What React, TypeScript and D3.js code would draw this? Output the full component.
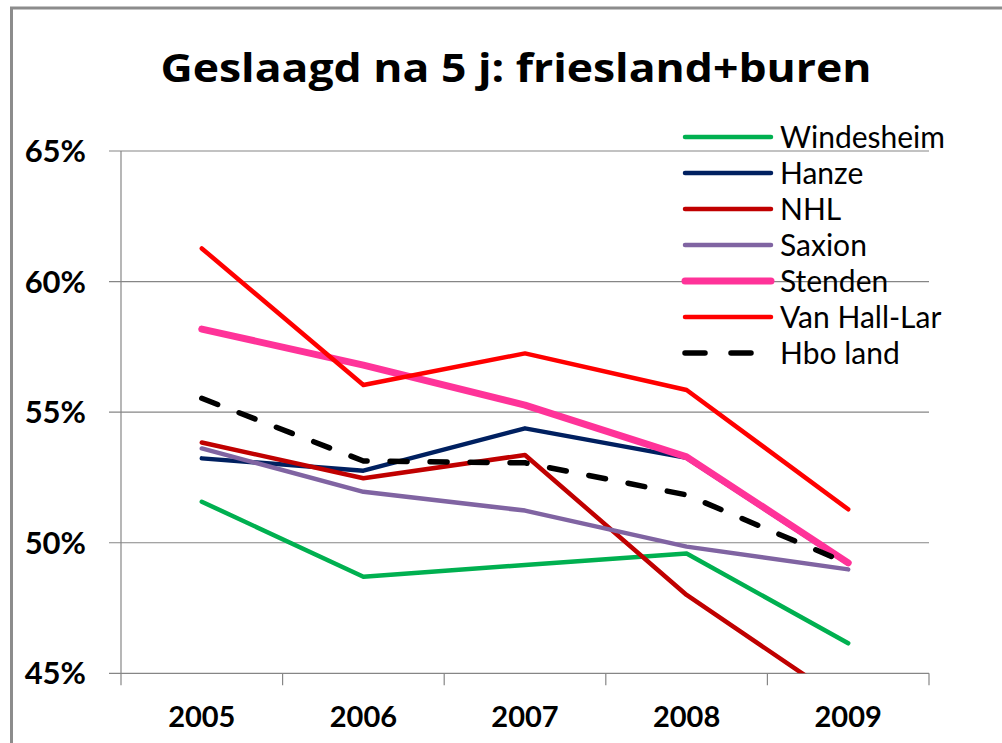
import React from 'react';
import * as d3 from 'd3';

// chart data
const years = ['2005', '2006', '2007', '2008', '2009'];
const seriesNames = ['Windesheim', 'Hanze', 'NHL', 'Saxion', 'Stenden', 'Van Hall-Lar', 'Hbo land'];
const windesheim = [51.57, 48.7, 49.15, 49.59, 46.15];
const hanze = [53.23, 52.76, 54.38, 53.25, 49.2];
const nhl = [53.84, 52.47, 53.36, 48.0, 43.8];
const saxion = [53.61, 51.95, 51.23, 49.85, 48.98];
const stenden = [58.18, 56.8, 55.27, 53.29, 49.23];
const vanHallLar = [61.27, 56.04, 57.25, 55.85, 51.28];
const hboLand = [55.53, 53.13, 53.06, 51.83, 49.2];
const yTicks = [45, 50, 55, 60, 65];

const seriesValues = [windesheim, hanze, nhl, saxion, stenden, vanHallLar, hboLand];
const colors = ['#00B050', '#002060', '#C00000', '#8064A2', '#FF3399', '#FF0000', '#000000'];
const widths = [4.5, 4.5, 4.5, 4.5, 7, 4.5, 5.5];

const W = 1002;
const H = 743;
const margin = { left: 121, right: 929, top: 151, bottom: 673.3 };

export default function App() {
  const x = d3.scaleBand().domain(years).range([margin.left, margin.right]);
  const y = d3.scaleLinear().domain([45, 65]).range([margin.bottom, margin.top]);
  const cx = (yr: string) => (x(yr) ?? 0) + x.bandwidth() / 2;

  const line = d3
    .line<number>()
    .x((_, i) => cx(years[i]))
    .y((d) => y(d));

  const font = 'Lato, "Open Sans", sans-serif';
  const titleFont = '"Open Sans", Lato, sans-serif';
  const grid = '#868686';

  // category boundaries for the x ticks
  const xTickPos = years.map((yr) => (x(yr) ?? 0) + x.bandwidth()).concat([margin.left]);

  return (
    <div style={{ position: 'fixed', left: 0, top: 0, width: W, height: H, background: '#fff' }}>
      <svg width={W} height={H} style={{ display: 'block' }}>
        <defs>
          <clipPath id="plot">
            <rect x={margin.left} y={margin.top - 10} width={margin.right - margin.left + 10} height={margin.bottom - margin.top + 10} />
          </clipPath>
        </defs>
        <rect x={0} y={0} width={W} height={H} fill="#fff" />
        {/* chart frame */}
        <rect x={11.5} y={8} width={W + 20} height={H + 20} fill="none" stroke="#8c8c8c" strokeWidth={3} />

        <text x={516} y={82} textAnchor="middle" fontFamily={titleFont} fontWeight={700} fontSize={40} fill="#000"
          textLength={711} lengthAdjust="spacingAndGlyphs">
          Geslaagd na 5 j: friesland+buren
        </text>

        {/* gridlines + y ticks */}
        {yTicks.map((t) => (
          <g key={t}>
            <line x1={109} x2={margin.right} y1={y(t)} y2={y(t)} stroke={grid} strokeWidth={1.2} />
            <text x={86} y={y(t)} dy="0.36em" textAnchor="end" fontFamily={font} fontWeight={700} fontSize={31} fill="#000">
              {t}%
            </text>
          </g>
        ))}
        <line x1={margin.left} x2={margin.left} y1={margin.top} y2={margin.bottom} stroke={grid} strokeWidth={1.2} />
        {xTickPos.map((p, i) => (
          <line key={i} x1={p} x2={p} y1={margin.bottom} y2={margin.bottom + 12} stroke={grid} strokeWidth={1.2} />
        ))}
        {years.map((yr) => (
          <text key={yr} x={cx(yr)} y={727} textAnchor="middle" fontFamily={font} fontWeight={700} fontSize={29} fill="#000">
            {yr}
          </text>
        ))}

        {/* series */}
        <g clipPath="url(#plot)">
          {seriesValues.map((vals, i) => (
            <path
              key={seriesNames[i]}
              d={line(vals) ?? ''}
              fill="none"
              stroke={colors[i]}
              strokeWidth={widths[i]}
              strokeLinejoin="round"
              strokeLinecap="round"
              strokeDasharray={seriesNames[i] === 'Hbo land' ? '17 23' : undefined}
            />
          ))}
        </g>

        {/* legend */}
        {seriesNames.map((name, i) => {
          const ly = 137 + i * 36;
          return (
            <g key={name}>
              <line
                x1={685}
                x2={771}
                y1={ly}
                y2={ly}
                stroke={colors[i]}
                strokeWidth={widths[i]}
                strokeLinecap="round"
                strokeDasharray={name === 'Hbo land' ? '20 26' : undefined}
              />
              <text x={780} y={ly} dy="0.36em" fontFamily={font} fontSize={30} fill="#000">
                {name}
              </text>
            </g>
          );
        })}
      </svg>
    </div>
  );
}
